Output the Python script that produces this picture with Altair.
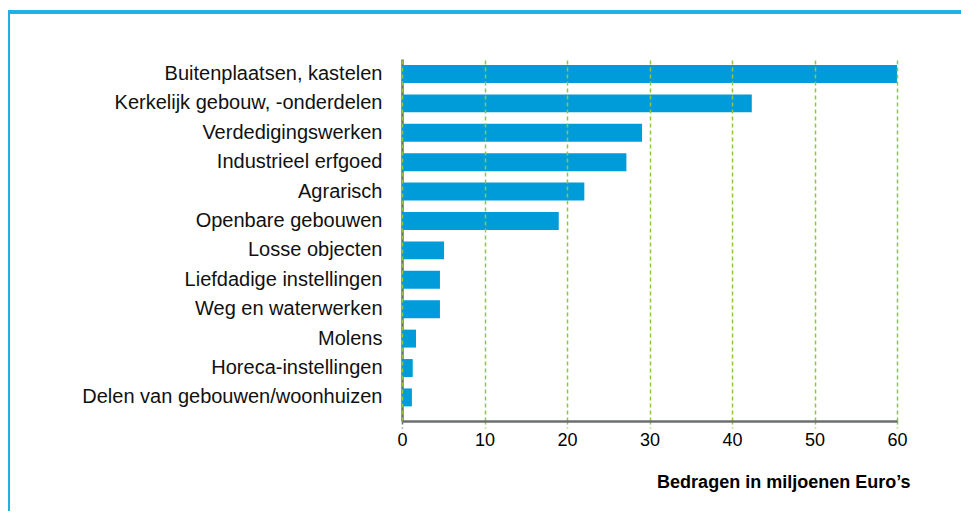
import altair as alt
import pandas as pd

categories = [
    "Buitenplaatsen, kastelen",
    "Kerkelijk gebouw, -onderdelen",
    "Verdedigingswerken",
    "Industrieel erfgoed",
    "Agrarisch",
    "Openbare gebouwen",
    "Losse objecten",
    "Liefdadige instellingen",
    "Weg en waterwerken",
    "Molens",
    "Horeca-instellingen",
    "Delen van gebouwen/woonhuizen",
]
amounts = [60.0, 42.4, 29.1, 27.2, 22.1, 19.0, 5.1, 4.6, 4.6, 1.7, 1.3, 1.2]
x_ticks = [0, 10, 20, 30, 40, 50, 60]
x_title = "Bedragen in miljoenen Euro\u2019s"

df = pd.DataFrame({"categorie": categories, "bedrag": amounts})

FONT = "Liberation Sans"
GRAY = "#6d6e71"
GREEN = "#8dc63f"
BLUE = "#009cda"
FRAME = "#1fb1e6"

bars = alt.Chart(df).mark_bar(color=BLUE).encode(
    x=alt.X(
        "bedrag:Q",
        scale=alt.Scale(domain=[0, 60], nice=False, zero=True),
        axis=alt.Axis(
            values=x_ticks,
            title=x_title,
            titleFont=FONT,
            titleFontSize=18,
            titleFontWeight="bold",
            titleColor="#000000",
            titleAlign="right",
            titleBaseline="alphabetic",
            titleX=508,
            titleY=66,
            labelFont=FONT,
            labelFontSize=18,
            labelColor="#000000",
            labelPadding=3,
            labelFlush=False,
            domainColor=GRAY,
            domainWidth=2.5,
            tickSize=7,
            tickWidth=1.5,
            tickColor=alt.condition("datum.value == 0", alt.value(GRAY), alt.value(GREEN)),
            tickDash=[3, 3],
            grid=True,
            gridColor=GREEN,
            gridWidth=1.5,
            gridDash=[4, 3],
            zindex=1,
        ),
    ),
    y=alt.Y(
        "categorie:N",
        sort=categories,
        scale=alt.Scale(paddingInner=0.39, paddingOuter=0.35, align=0.29),
        axis=alt.Axis(
            title=None,
            ticks=False,
            labelPadding=20,
            labelFont=FONT,
            labelFontSize=20,
            labelColor="#111111",
            domainColor=GRAY,
            domainWidth=2.5,
            grid=False,
            labelLimit=400,
        ),
    ),
)

frame_top = alt.Chart(df).mark_rule(color=FRAME, strokeWidth=2.5).encode(
    x=alt.value(-394), x2=alt.value(560), y=alt.value(-47)
)
frame_left = alt.Chart(df).mark_rule(color=FRAME, strokeWidth=2).encode(
    x=alt.value(-393), y=alt.value(-47), y2=alt.value(470)
)

chart = alt.layer(bars, frame_top, frame_left).properties(
    width=495,
    height=362,
    autosize=alt.AutoSizeParams(type="none"),
    padding={"left": 394, "top": 51, "right": 64, "bottom": 90},
    background="white",
).configure_view(stroke=None)

chart.save("out.html", embed_options={"renderer": "svg", "actions": False})
